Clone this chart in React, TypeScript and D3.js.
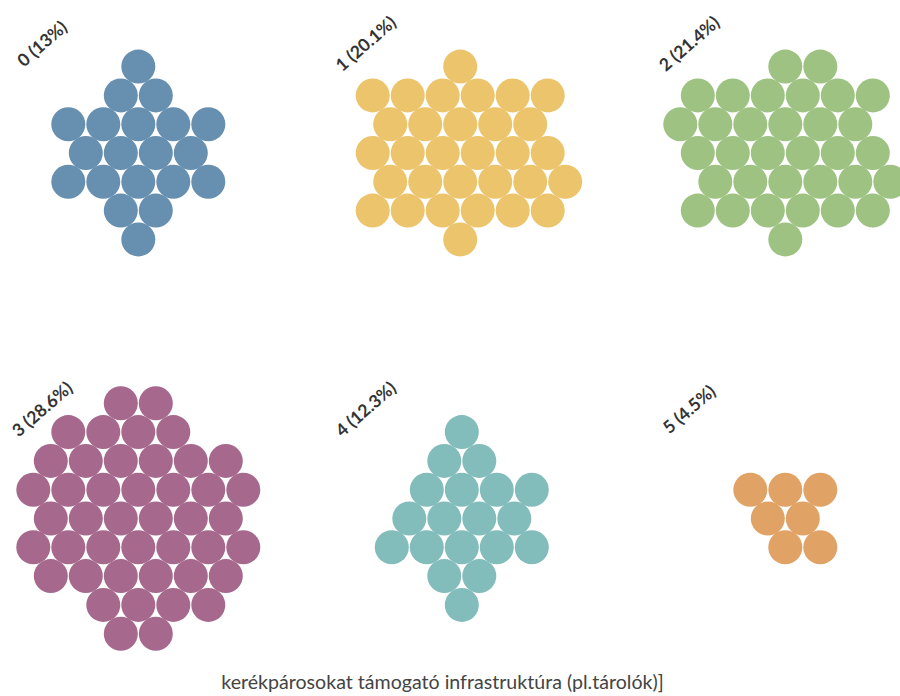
import React from "react";
import * as d3 from "d3";

const categories = ["0", "1", "2", "3", "4", "5"];
const counts = [20, 31, 33, 44, 19, 7];
const percents = ["13%", "20.1%", "21.4%", "28.6%", "12.3%", "4.5%"];
const colors = ["#668fb0", "#ebc46c", "#9dc282", "#a6698d", "#82bcbb", "#e0a265"];
const title = "kerékpárosokat támogató infrastruktúra (pl.tárolók)]";

const W = 900;
const H = 696;
const UNIT_R = 10; // radius used for the packing layout

export default function App() {
  const colScale = d3.scalePoint<number>().domain([0, 1, 2]).range([138.3, 785.3]);
  const rowScale = d3.scalePoint<number>().domain([0, 1]).range([153, 518.5]);
  // pack units to pixels
  const sx = d3.scaleLinear().domain([0, UNIT_R]).range([0, 17.5]);
  const sy = d3.scaleLinear().domain([0, UNIT_R * Math.sqrt(3)]).range([0, 28.8]);

  const groups = categories.map((cat, i) => {
    const circles = d3.range(counts[i]).map(() => ({ r: UNIT_R, x: 0, y: 0 }));
    d3.packSiblings(circles);
    const cx = colScale(i % 3)!;
    const cy = rowScale(Math.floor(i / 3))!;
    return { cat, i, circles, cx, cy };
  });

  return (
    <svg width={W} height={H} style={{ display: "block", position: "absolute", left: 0, top: 0 }}>
      <rect width={W} height={H} fill="#ffffff" />
      {groups.map((g) => (
        <g key={g.cat}>
          {g.circles.map((c, j) => (
            <circle key={j} cx={g.cx + sx(c.x)} cy={g.cy + sy(c.y)} r={17} fill={colors[g.i]} />
          ))}
          <text
            transform={`translate(${g.cx - 95},${g.cy - 108}) rotate(-41)`}
            textAnchor="middle"
            dominantBaseline="middle"
            fontFamily="Lato, 'Open Sans', sans-serif"
            fontWeight="bold"
            fontSize={17.5}
            fill="#333"
          >
            {`${g.cat} (${percents[g.i]})`}
          </text>
        </g>
      ))}
      <text
        x={442.5}
        y={689}
        textAnchor="middle"
        fontFamily="Lato, 'Open Sans', sans-serif"
        fontSize={19.6}
        fill="#444"
      >
        {title}
      </text>
    </svg>
  );
}
